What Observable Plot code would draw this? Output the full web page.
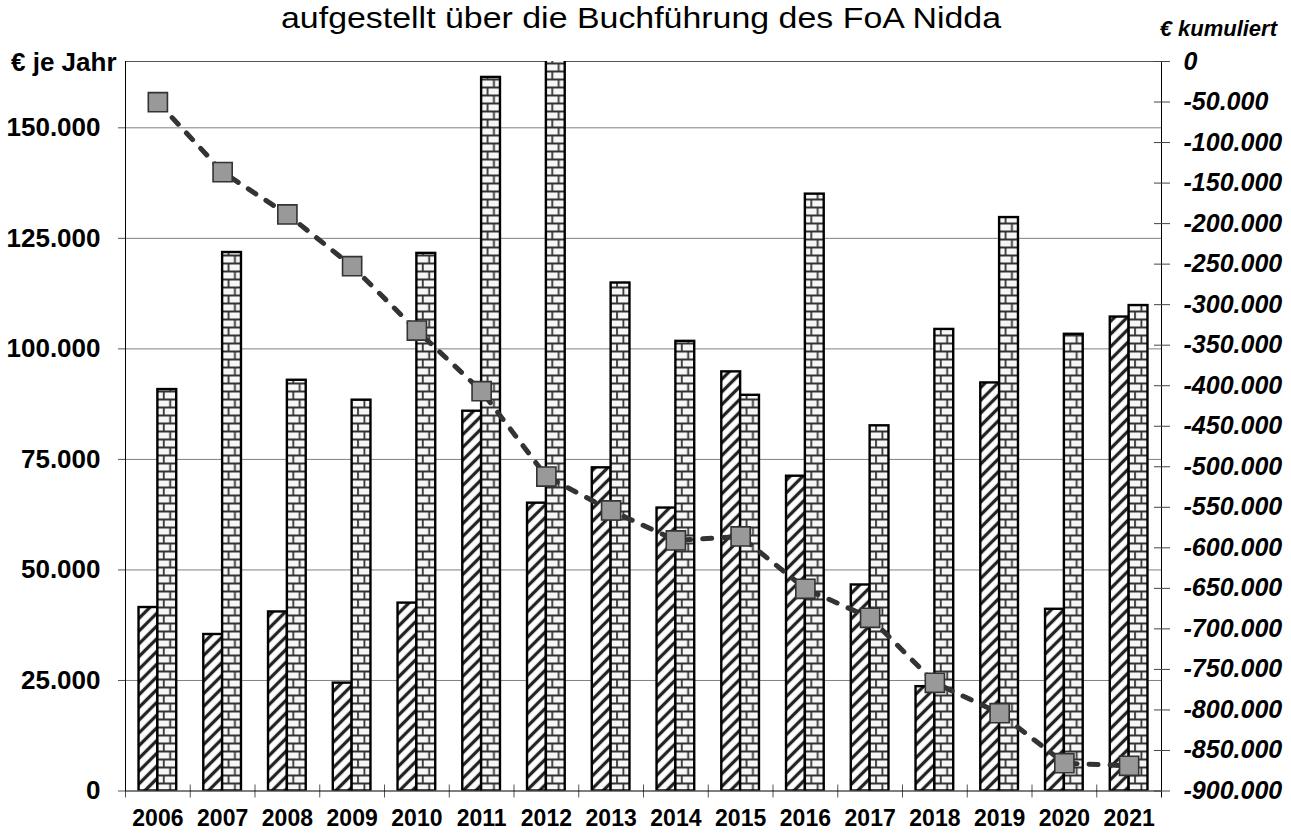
<!DOCTYPE html>
<html><head><meta charset="utf-8">
<script src="https://cdn.jsdelivr.net/npm/d3@7"></script>
<script src="https://cdn.jsdelivr.net/npm/@observablehq/plot@0.6"></script>
<style>body{margin:0;background:#fff;} svg{display:block;}</style>
</head><body><div id="chart"></div>
<script>
const years = ["2006","2007","2008","2009","2010","2011","2012","2013","2014","2015","2016","2017","2018","2019","2020","2021"];
const hatchedValues = [41500, 35400, 40500, 24400, 42500, 85900, 65100, 73100, 64000, 94800, 71200, 46600, 23600, 92300, 41100, 107200];
const brickValues = [90800, 121800, 92900, 88400, 121600, 161400, 170400, 114900, 101700, 89500, 135000, 82600, 104400, 129700, 103300, 109800];
const cumulative = [-50200, -136500, -188700, -252500, -331900, -406700, -512000, -553900, -590900, -586000, -650500, -686300, -766500, -804000, -865700, -868900];
const leftTicks = [0, 25000, 50000, 75000, 100000, 125000, 150000];
const rightTicks = [0, -50000, -100000, -150000, -200000, -250000, -300000, -350000, -400000, -450000, -500000, -550000, -600000, -650000, -700000, -750000, -800000, -850000, -900000];
const titleText = "aufgestellt über die Buchführung des FoA Nidda";
const leftLabel = "€ je Jahr";
const rightLabel = "€ kumuliert";

const leftMax = 165000, rightMin = -900000;
const toLeft = c => (c - rightMin) * leftMax / (0 - rightMin);
const fromLeft = v => Math.round((v * (0 - rightMin) / leftMax + rightMin) / 1000) * 1000;

const de = d3.formatLocale({decimal: ",", thousands: ".", grouping: [3], currency: ["", ""], minus: "-"});
const fmt = de.format(",d");

const W = 1291, H = 837;
const mL = 125, mR = 130, mT = 61, mB = 46.5;
const bw = (W - mL - mR) / years.length;
const barW = bw * 0.291;
const half = bw / 2;

const rows = years.map((y, i) => ({year: y, hatched: hatchedValues[i], brick: brickValues[i], cum: cumulative[i]}));

const font = "'Liberation Sans', Arial, sans-serif";
const narrow = "'Liberation Sans Narrow', 'Arial Narrow', 'Liberation Sans', Arial, sans-serif";

const plot = Plot.plot({
  width: W, height: H,
  marginLeft: mL, marginRight: mR, marginTop: mT, marginBottom: mB,
  style: {fontFamily: font, background: "#fff", color: "#000", overflow: "visible"},
  x: {type: "band", domain: years, padding: 0, round: false},
  y: {domain: [0, leftMax]},
  marks: [
    Plot.ruleY(leftTicks.filter(d => d > 0), {stroke: "#808080", strokeWidth: 1}),
    Plot.ruleY([leftMax], {stroke: "#555", strokeWidth: 1}),
    Plot.barY(rows, {x: "year", y: "hatched", fill: "url(#hatchPat)", stroke: "#000", strokeWidth: 2.4, insetLeft: half - barW, insetRight: half, clip: true}),
    Plot.barY(rows, {x: "year", y: "brick", fill: "url(#brickPat)", stroke: "#000", strokeWidth: 2.4, insetLeft: half, insetRight: half - barW, clip: true}),
    Plot.ruleX(years, {x: d => d, dx: -half, y1: 0, y2: 0, insetTop: -6, insetBottom: -7, stroke: "#555"}),
    Plot.ruleX([years[years.length - 1]], {x: d => d, dx: half, y1: 0, y2: 0, insetTop: 0, insetBottom: -7, stroke: "#000"}),
    Plot.ruleX([years[0]], {x: d => d, dx: -half, y1: 0, y2: leftMax, stroke: "#000"}),
    Plot.ruleX([years[years.length - 1]], {x: d => d, dx: half, y1: 0, y2: leftMax, stroke: "#000"}),
    Plot.ruleY([0], {stroke: "#000", strokeWidth: 1.2}),
    Plot.line(rows, {x: "year", y: d => toLeft(d.cum), stroke: "#333", strokeWidth: 5, strokeDasharray: "9,12", strokeLinecap: "round"}),
    Plot.dot(rows, {x: "year", y: d => toLeft(d.cum), symbol: "square", r: 10.8, fill: "#999", stroke: "#333", strokeWidth: 1.6}),
    Plot.axisY(leftTicks, {anchor: "left", label: null, tickFormat: fmt, tickSize: 7, tickPadding: 18, fontSize: 26, fontWeight: "bold", stroke: "#555"}),
    Plot.axisY(rightTicks.map(toLeft), {anchor: "right", label: null, tickFormat: d => fmt(fromLeft(d)), tickSize: 8, tickPadding: 14, fontSize: 25, fontWeight: "bold", fontStyle: "italic", stroke: "#444"}),
    Plot.axisY(rightTicks.map(toLeft), {anchor: "right", label: null, tickFormat: () => "", tickSize: -8, stroke: "#444"}),
    Plot.axisX(years, {anchor: "bottom", label: null, tickSize: 0, tickPadding: 19, fontSize: 23, fontWeight: "bold"})
  ]
});

document.getElementById("chart").appendChild(plot);
const svg = d3.select(plot);
const defs = svg.insert("defs", ":first-child");
const hp = defs.append("pattern").attr("id", "hatchPat").attr("patternUnits", "userSpaceOnUse")
  .attr("width", 9).attr("height", 9).attr("patternTransform", "rotate(45)");
hp.append("rect").attr("width", 9).attr("height", 9).attr("fill", "#fff");
hp.append("line").attr("x1", 4.5).attr("x2", 4.5).attr("y1", -1).attr("y2", 10).attr("stroke", "#222").attr("stroke-width", 3.3);

const bp = defs.append("pattern").attr("id", "brickPat").attr("patternUnits", "userSpaceOnUse")
  .attr("x", mL).attr("y", H - mB).attr("width", bw).attr("height", 16);
bp.append("rect").attr("width", bw).attr("height", 16).attr("fill", "#f6f6f6");
bp.append("line").attr("x1", 0).attr("x2", bw).attr("y1", 1).attr("y2", 1).attr("stroke", "#333").attr("stroke-width", 1.8);
bp.append("line").attr("x1", 0).attr("x2", bw).attr("y1", 9).attr("y2", 9).attr("stroke", "#333").attr("stroke-width", 1.8);
bp.append("line").attr("x1", half + barW * 0.34).attr("x2", half + barW * 0.34).attr("y1", 1).attr("y2", 9).attr("stroke", "#333").attr("stroke-width", 1.8);
bp.append("line").attr("x1", half + barW * 0.68).attr("x2", half + barW * 0.68).attr("y1", 9).attr("y2", 17).attr("stroke", "#333").attr("stroke-width", 1.8);

svg.append("text").attr("x", 641).attr("y", 28).attr("text-anchor", "middle")
  .attr("font-family", font).attr("font-size", 30).attr("textLength", 720).attr("lengthAdjust", "spacingAndGlyphs").text(titleText);
svg.append("text").attr("x", 1277).attr("y", 36).attr("text-anchor", "end")
  .attr("font-family", narrow).attr("font-size", 22).attr("font-weight", "bold").attr("font-style", "italic").text(rightLabel);
svg.append("text").attr("x", 11).attr("y", 71).attr("text-anchor", "start")
  .attr("font-family", font).attr("font-size", 26).attr("font-weight", "bold").text(leftLabel);
</script></body></html>
